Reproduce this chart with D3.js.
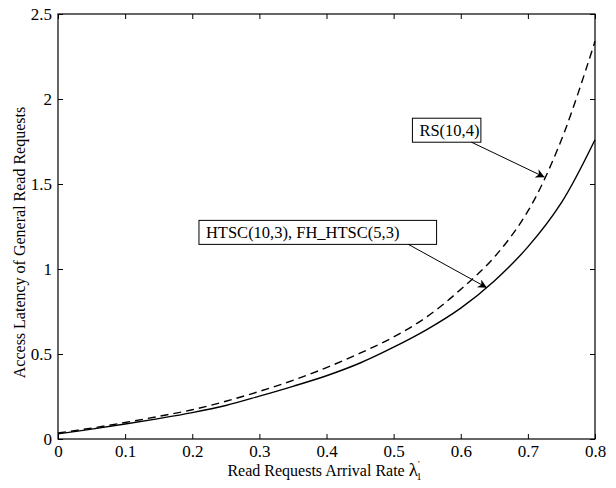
<!DOCTYPE html>
<html>
<head>
<meta charset="utf-8">
<script src="https://cdn.jsdelivr.net/npm/d3@7"></script>
<style>
  body { margin: 0; background: #fff; }
  text { font-family: "Liberation Serif", "Times New Roman", serif; fill: #000; }
</style>
</head>
<body>
<div id="chart"></div>
<script>
const lambdas = [0, 0.05, 0.1, 0.15, 0.2, 0.25, 0.3, 0.35, 0.4, 0.45, 0.5, 0.55, 0.6, 0.65, 0.7, 0.75, 0.8];
const htscLatency = [0.03, 0.058, 0.088, 0.12, 0.155, 0.197, 0.252, 0.31, 0.372, 0.447, 0.54, 0.645, 0.77, 0.93, 1.13, 1.39, 1.76];
const rsLatency = [0.035, 0.064, 0.097, 0.133, 0.172, 0.222, 0.28, 0.345, 0.42, 0.505, 0.6, 0.72, 0.88, 1.07, 1.34, 1.76, 2.34];
const xTicks = [0, 0.1, 0.2, 0.3, 0.4, 0.5, 0.6, 0.7, 0.8];
const yTicks = [0, 0.5, 1, 1.5, 2, 2.5];

// annotations: box corners and arrow tip in data units
const notes = [
  { label: "RS(10,4)", bx: 0.528, by: 1.887, bx2: 0.630, tipX: 0.725, tipY: 1.54, fromX: 0.616 },
  { label: "HTSC(10,3), FH_HTSC(5,3)", bx: 0.21, by: 1.286, bx2: 0.564, tipX: 0.639, tipY: 0.89, fromX: 0.522 }
];

const W = 616, H = 488;
const margin = { top: 14, right: 21, bottom: 49, left: 58 };
const width = W - margin.left - margin.right;
const height = H - margin.top - margin.bottom;

const svg = d3.select("#chart").append("svg")
  .attr("width", W).attr("height", H);

const g = svg.append("g")
  .attr("transform", "translate(" + margin.left + "," + margin.top + ")");

const x = d3.scaleLinear().domain([0, 0.8]).range([0, width]);
const y = d3.scaleLinear().domain([0, 2.5]).range([height, 0]);

const fmt = d => d === 0 ? "0" : String(d);

// axes with inward ticks on all four sides
const styleAxis = sel => {
  sel.select(".domain").remove();
  sel.selectAll("line").attr("stroke", "#000").attr("stroke-width", 1);
  sel.selectAll("text").style("font-size", "17px");
};

g.append("g").attr("transform", "translate(0," + height + ")")
  .call(d3.axisBottom(x).tickValues(xTicks).tickFormat(fmt).tickSizeInner(-5).tickSizeOuter(0).tickPadding(6))
  .call(styleAxis);
g.append("g")
  .call(d3.axisTop(x).tickValues(xTicks).tickFormat("").tickSizeInner(-5).tickSizeOuter(0))
  .call(styleAxis);
g.append("g")
  .call(d3.axisLeft(y).tickValues(yTicks).tickFormat(fmt).tickSizeInner(-5).tickSizeOuter(0).tickPadding(6))
  .call(styleAxis);
g.append("g").attr("transform", "translate(" + width + ",0)")
  .call(d3.axisRight(y).tickValues(yTicks).tickFormat("").tickSizeInner(-5).tickSizeOuter(0))
  .call(styleAxis);

g.append("rect")
  .attr("width", width).attr("height", height)
  .attr("fill", "none").attr("stroke", "#000").attr("stroke-width", 1.2);

// curves
const line = d3.line()
  .x((d, i) => x(lambdas[i]))
  .y(d => y(d))
  .curve(d3.curveCatmullRom);

g.append("path").datum(rsLatency)
  .attr("d", line).attr("fill", "none")
  .attr("stroke", "#000").attr("stroke-width", 1.4)
  .attr("stroke-dasharray", "8,5");

g.append("path").datum(htscLatency)
  .attr("d", line).attr("fill", "none")
  .attr("stroke", "#000").attr("stroke-width", 1.4);

// arrow head
svg.append("defs").append("marker")
  .attr("id", "arrow")
  .attr("viewBox", "0 0 10 10")
  .attr("refX", 10).attr("refY", 5)
  .attr("markerWidth", 13).attr("markerHeight", 9)
  .attr("markerUnits", "userSpaceOnUse")
  .attr("orient", "auto")
  .append("path").attr("d", "M0,0 L10,5 L0,10 L3,5 Z").attr("fill", "#000");

notes.forEach(n => {
  const bh = 24;
  g.append("rect")
    .attr("x", x(n.bx)).attr("y", y(n.by))
    .attr("width", x(n.bx2) - x(n.bx)).attr("height", bh)
    .attr("fill", "#fff").attr("stroke", "#000").attr("stroke-width", 1);
  g.append("text")
    .attr("x", x(n.bx) + 7).attr("y", y(n.by) + 18)
    .style("font-size", "16.5px")
    .text(n.label);
  g.append("line")
    .attr("x1", x(n.fromX)).attr("y1", y(n.by) + bh)
    .attr("x2", x(n.tipX)).attr("y2", y(n.tipY))
    .attr("stroke", "#000").attr("stroke-width", 1)
    .attr("marker-end", "url(#arrow)");
});

// axis titles
const xl = svg.append("text")
  .attr("x", margin.left + width / 2 - 2).attr("y", 476)
  .attr("text-anchor", "middle")
  .style("font-size", "16px");
xl.append("tspan").text("Read Requests Arrival Rate ");
xl.append("tspan").style("font-size", "19px").text("λ");
xl.append("tspan").attr("dy", -9).style("font-size", "9px").text("'");
xl.append("tspan").attr("dy", 13).attr("dx", -3).style("font-size", "10px").text("1");

svg.append("text")
  .attr("transform", "translate(25," + (margin.top + height / 2 + 16) + ") rotate(-90)")
  .attr("text-anchor", "middle")
  .style("font-size", "16px")
  .text("Access Latency of General Read Requests");
</script>
</body>
</html>
